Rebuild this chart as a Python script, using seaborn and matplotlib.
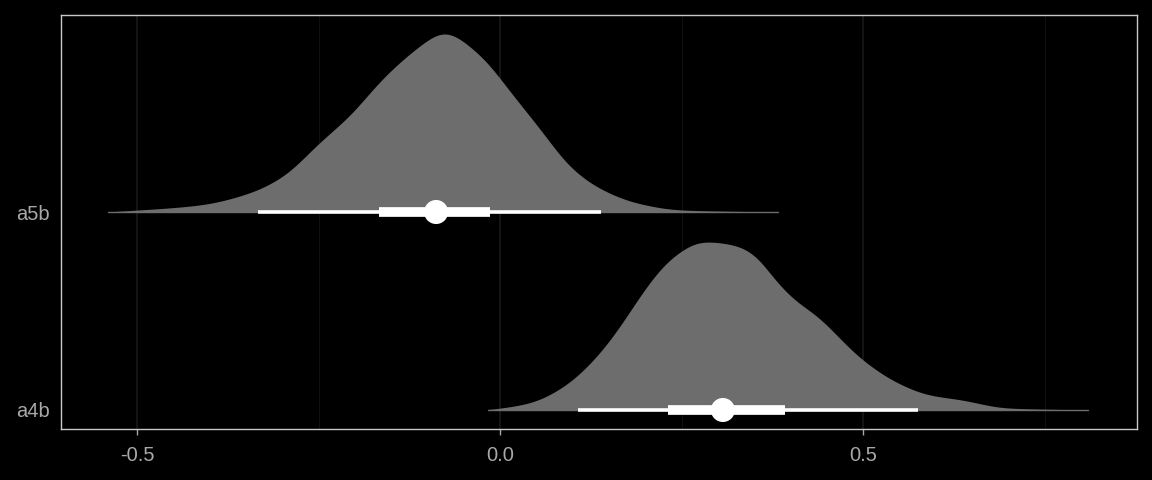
import numpy as np
import pandas as pd
import matplotlib
matplotlib.use("Agg")
import matplotlib.pyplot as plt
import seaborn as sns

# ---- data ----
categories = ["a4b", "a5b"]

# density outlines: x value, height (in category units)
a5b_x = [-0.540, -0.413, -0.344, -0.299, -0.248, -0.207, -0.161, -0.114, -0.083, -0.079,
         -0.028, 0.018, 0.055, 0.096, 0.133, 0.188, 0.248, 0.383]
a5b_h = [0.000, 0.035, 0.096, 0.177, 0.348, 0.480, 0.667, 0.818, 0.894, 0.899,
         0.783, 0.581, 0.414, 0.227, 0.126, 0.045, 0.010, 0.000]

a4b_x = [-0.017, 0.041, 0.087, 0.133, 0.165, 0.202, 0.234, 0.279, 0.320, 0.347,
         0.383, 0.410, 0.431, 0.499, 0.545, 0.590, 0.636, 0.697, 0.810]
a4b_h = [0.000, 0.035, 0.116, 0.268, 0.419, 0.621, 0.758, 0.848, 0.833, 0.793,
         0.636, 0.540, 0.490, 0.253, 0.141, 0.076, 0.051, 0.010, 0.000]

point_est = [0.307, -0.088]           # a4b, a5b
inner_lo = [0.231, -0.167]
inner_hi = [0.393, -0.014]
outer_lo = [0.107, -0.333]
outer_hi = [0.576, 0.139]


def pchip(x, y, xn):
    x = np.asarray(x, float)
    y = np.asarray(y, float)
    h = np.diff(x)
    d = np.diff(y) / h
    n = len(x)
    m = np.zeros(n)
    for k in range(1, n - 1):
        if d[k - 1] * d[k] <= 0:
            m[k] = 0.0
        else:
            w1 = 2 * h[k] + h[k - 1]
            w2 = h[k] + 2 * h[k - 1]
            m[k] = (w1 + w2) / (w1 / d[k - 1] + w2 / d[k])
    m[0] = d[0]
    m[-1] = d[-1]
    idx = np.clip(np.searchsorted(x, xn) - 1, 0, n - 2)
    t = (xn - x[idx]) / h[idx]
    h00 = 2 * t**3 - 3 * t**2 + 1
    h10 = t**3 - 2 * t**2 + t
    h01 = -2 * t**3 + 3 * t**2
    h11 = t**3 - t**2
    return (h00 * y[idx] + h10 * h[idx] * m[idx] + h01 * y[idx + 1]
            + h11 * h[idx] * m[idx + 1])


def smooth(xn, yn, sigma):
    dx = xn[1] - xn[0]
    k = int(4 * sigma / dx)
    kern = np.exp(-0.5 * (np.arange(-k, k + 1) * dx / sigma) ** 2)
    kern /= kern.sum()
    pad = np.concatenate([np.zeros(k), yn, np.zeros(k)])
    return np.convolve(pad, kern, mode="valid")


# ---- style ----
sns.set_theme(style="dark")
plt.rcParams["font.family"] = ["Liberation Sans", "DejaVu Sans"]

fig = plt.figure(figsize=(11.52, 4.8), dpi=100, facecolor="black")
ax = fig.add_axes([61 / 1152, 51 / 480, 1076 / 1152, 414 / 480])
ax.set_facecolor("black")

ypos = {"a4b": 1, "a5b": 2}
slab = "#6d6d6d"

curves = pd.concat([
    pd.DataFrame({"x": a4b_x, "h": a4b_h, "cat": "a4b"}),
    pd.DataFrame({"x": a5b_x, "h": a5b_h, "cat": "a5b"}),
])

for cat, grp in curves.groupby("cat"):
    xs = np.array(grp["x"])
    hs = np.array(grp["h"])
    fine = np.linspace(xs.min(), xs.max(), 800)
    hf = np.clip(pchip(xs, hs, fine), 0, None)
    hs_s = smooth(fine, hf, 0.012)
    hs_s *= hf.max() / hs_s.max()
    base = ypos[cat]
    ax.fill_between(fine, base, base + hs_s, color=slab, linewidth=0, zorder=2)
    ax.plot([xs.min(), xs.max()], [base, base], color=slab, lw=1, zorder=2)

pts = pd.DataFrame({"cat": categories, "y": [ypos[c] for c in categories],
                    "est": point_est, "ilo": inner_lo, "ihi": inner_hi,
                    "olo": outer_lo, "ohi": outer_hi})

ax.hlines(pts["y"], pts["olo"], pts["ohi"], color="white", lw=2.6, zorder=3)
ax.hlines(pts["y"], pts["ilo"], pts["ihi"], color="white", lw=7.0, zorder=4)
sns.scatterplot(data=pts, x="est", y="y", color="white", s=300, edgecolor="none",
                zorder=5, ax=ax, legend=False)

ax.set_xlim(-0.6047, 0.8774)
ax.set_ylim(0.904, 2.995)
ax.set_xticks([-0.5, 0.0, 0.5])
ax.set_xticklabels(["-0.5", "0.0", "0.5"])
ax.set_yticks([1, 2])
ax.set_yticklabels(categories)
ax.set_xlabel("")
ax.set_ylabel("")

ax.grid(False)
for v in [-0.5, 0.0, 0.5]:
    ax.axvline(v, color="#171717", lw=1.3, zorder=1)
for v in [-0.25, 0.25, 0.75]:
    ax.axvline(v, color="#0f0f0f", lw=0.8, zorder=1)

for s in ax.spines.values():
    s.set_visible(True)
    s.set_color("#c8c8c8")
    s.set_linewidth(1.0)

ax.tick_params(axis="x", which="major", colors="#a8a8a8", labelcolor="#a8a8a8",
               labelsize=14.5, length=4, width=1, pad=8, bottom=True)
ax.tick_params(axis="x", which="minor", length=0, bottom=False)
ax.tick_params(axis="y", colors="#a8a8a8", labelcolor="#a8a8a8", labelsize=14.5,
               length=0, pad=8, left=False)

fig.savefig("out.png", dpi=100, facecolor="black")
